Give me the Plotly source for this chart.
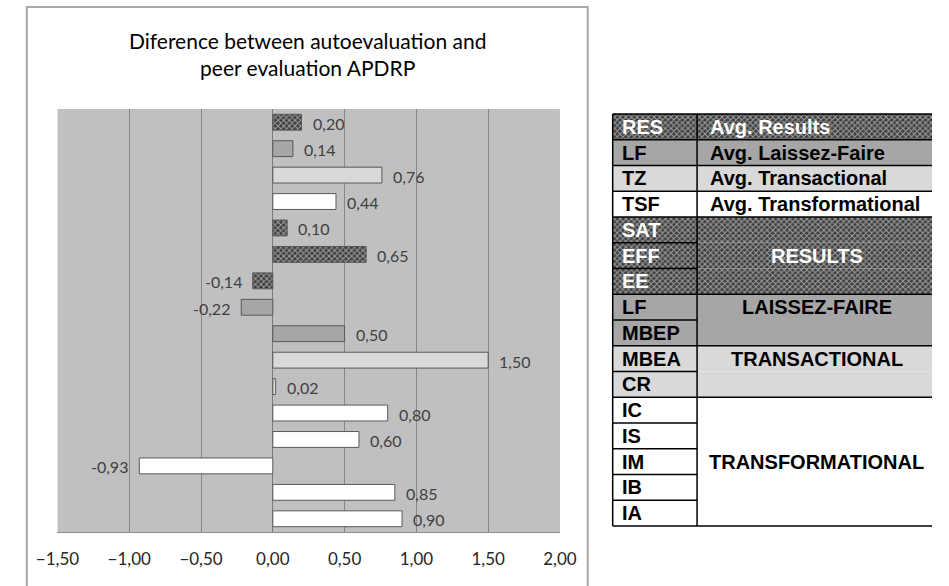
import plotly.graph_objects as go

# Indicator codes, top to bottom
codes = ["RES", "LF", "TZ", "TSF", "SAT", "EFF", "EE", "LF", "MBEP",
         "MBEA", "CR", "IC", "IS", "IM", "IB", "IA"]
# Difference between self evaluation and peer evaluation
diffs = [0.20, 0.14, 0.76, 0.44, 0.10, 0.65, -0.14, -0.22, 0.50,
         1.50, 0.02, 0.80, 0.60, -0.93, 0.85, 0.90]
# Leadership group of every indicator
groups = ["res", "lf", "tz", "tsf", "res", "res", "res", "lf", "lf",
          "tz", "tz", "tsf", "tsf", "tsf", "tsf", "tsf"]
# Descriptions of the four average rows
avg_labels = ["Avg. Results", "Avg. Laissez-Faire", "Avg. Transactional",
              "Avg. Transformational"]
# Names of the grouped blocks and the row each name sits on
block_names = ["RESULTS", "LAISSEZ-FAIRE", "TRANSACTIONAL", "TRANSFORMATIONAL"]
block_rows = [5, 7, 9, 13]
x_ticks = [-1.5, -1.0, -0.5, 0.0, 0.5, 1.0, 1.5, 2.0]

W, H = 949, 586
fill = {"res": "#3e3e3e", "lf": "#a6a6a6", "tz": "#d9d9d9", "tsf": "#ffffff"}
hatch = {"res": "x", "lf": "", "tz": "", "tsf": ""}
text_col = {"res": "#ffffff", "lf": "#000000", "tz": "#000000", "tsf": "#000000"}

colors = [fill[g] for g in groups]
shapes_p = [hatch[g] for g in groups]
rows = list(range(len(codes)))
pattern = dict(shape=shapes_p, fgcolor="#9c9c9c", size=4, solidity=0.45,
               fillmode="overlay")


def px_x(p):
    return p / W


def px_y(p):
    return 1 - p / H


fig = go.Figure()

# Main horizontal bars
fig.add_trace(go.Bar(
    x=diffs, y=rows, orientation="h", width=0.6,
    marker=dict(color=colors, line=dict(color="#595959", width=1),
                pattern=pattern),
    xaxis="x", yaxis="y", hoverinfo="skip", showlegend=False,
))

# Key table row backgrounds
tab_left, tab_div, tab_right = 616, 704, 954
fig.add_trace(go.Bar(
    x=[tab_right - tab_left] * len(rows), base=tab_left, y=rows,
    orientation="h", width=1.0,
    marker=dict(color=colors, line=dict(width=0), pattern=pattern),
    xaxis="x2", yaxis="y2", hoverinfo="skip", showlegend=False,
))

annotations = []
# Value labels next to the bars
for i, v in enumerate(diffs):
    annotations.append(dict(
        x=v, y=i, xref="x", yref="y",
        text=f"{v:.2f}".replace(".", ","), showarrow=False,
        xanchor="left" if v >= 0 else "right", xshift=9 if v >= 0 else -9,
        yshift=-1,
        font=dict(family="Lato", size=16, color="#404040"),
    ))

# Chart title
annotations.append(dict(
    x=px_x(297.5), y=px_y(54), xref="paper", yref="paper",
    text="Diference between autoevaluation and<br>peer evaluation APDRP",
    showarrow=False, xanchor="center", yanchor="middle",
    font=dict(family="Lato", size=21, color="#000000"),
))

tfont = dict(family="Liberation Sans, Arial", size=20, weight="bold")
for i, c in enumerate(codes):
    annotations.append(dict(
        x=624, y=i, xref="x2", yref="y2", text=c, showarrow=False,
        xanchor="left", yanchor="middle",
        font=dict(**tfont, color=text_col[groups[i]]),
    ))
for i, t in enumerate(avg_labels):
    annotations.append(dict(
        x=715, y=i, xref="x2", yref="y2", text=t, showarrow=False,
        xanchor="left", yanchor="middle",
        font=dict(**tfont, color=text_col[groups[i]]),
    ))
for name, r in zip(block_names, block_rows):
    annotations.append(dict(
        x=(tab_div + tab_right) / 2, y=r, xref="x2", yref="y2", text=name,
        showarrow=False, xanchor="center", yanchor="middle",
        font=dict(**tfont, color=text_col[groups[r]]),
    ))

shapes = []
# Plot area background
shapes.append(dict(type="rect", xref="x domain", yref="y domain",
                   x0=0, x1=1, y0=0, y1=1, fillcolor="#c0c0c0",
                   line=dict(width=0), layer="below"))
# Chart frame
shapes.append(dict(type="rect", xref="paper", yref="paper",
                   x0=px_x(5), x1=px_x(590), y0=px_y(7), y1=px_y(620),
                   line=dict(color="#a8a8a8", width=2), fillcolor="rgba(0,0,0,0)"))

# Table grid lines
line = dict(color="#000000", width=1.5)
n = len(rows)
full_breaks = [-0.5, 0.5, 1.5, 2.5, 3.5, 6.5, 8.5, 10.5, n - 0.5]
left_breaks = [4.5, 5.5, 7.5, 9.5, 11.5, 12.5, 13.5, 14.5]
for yb in full_breaks:
    shapes.append(dict(type="line", xref="x2", yref="y2", x0=tab_left,
                       x1=tab_right, y0=yb, y1=yb, line=line))
for yb in left_breaks:
    shapes.append(dict(type="line", xref="x2", yref="y2", x0=tab_left,
                       x1=tab_div, y0=yb, y1=yb, line=line))
for xb in [tab_left, tab_div]:
    shapes.append(dict(type="line", xref="x2", yref="y2", x0=xb, x1=xb,
                       y0=-0.5, y1=n - 0.5, line=line))

row_h = (526 - 114) / n
pad = 0.1 * row_h

fig.update_layout(
    width=W, height=H, margin=dict(l=0, r=0, t=0, b=0),
    paper_bgcolor="#ffffff", plot_bgcolor="rgba(0,0,0,0)",
    separators=",.",
    xaxis=dict(domain=[px_x(37), px_x(561)], range=[-1.5, 2.0],
               tickvals=x_ticks, tickformat=".2f",
               showgrid=True, gridcolor="#878787", gridwidth=1,
               zeroline=True, zerolinecolor="#7a7a7a", zerolinewidth=1,
               showline=True, linecolor="#8f8f8f", linewidth=1,
               ticks="", ticklabelstandoff=12,
               tickfont=dict(family="Lato", size=17, color="#262626"),
               anchor="y", fixedrange=True),
    yaxis=dict(domain=[1 - 532 / H, 1 - 109 / H], range=[n - 0.5, -0.5],
               showticklabels=False, showgrid=False, zeroline=False,
               showline=False, ticks="", anchor="x", fixedrange=True),
    xaxis2=dict(domain=[612 / W, 1], range=[612, 949], visible=False,
                anchor="y2", fixedrange=True),
    yaxis2=dict(domain=[1 - (526 + pad) / H, 1 - (114 - pad) / H],
                range=[n - 0.5 + 0.1, -0.5 - 0.1], visible=False,
                anchor="x2", fixedrange=True),
    annotations=annotations, shapes=shapes,
)

fig.write_html("out.html")
